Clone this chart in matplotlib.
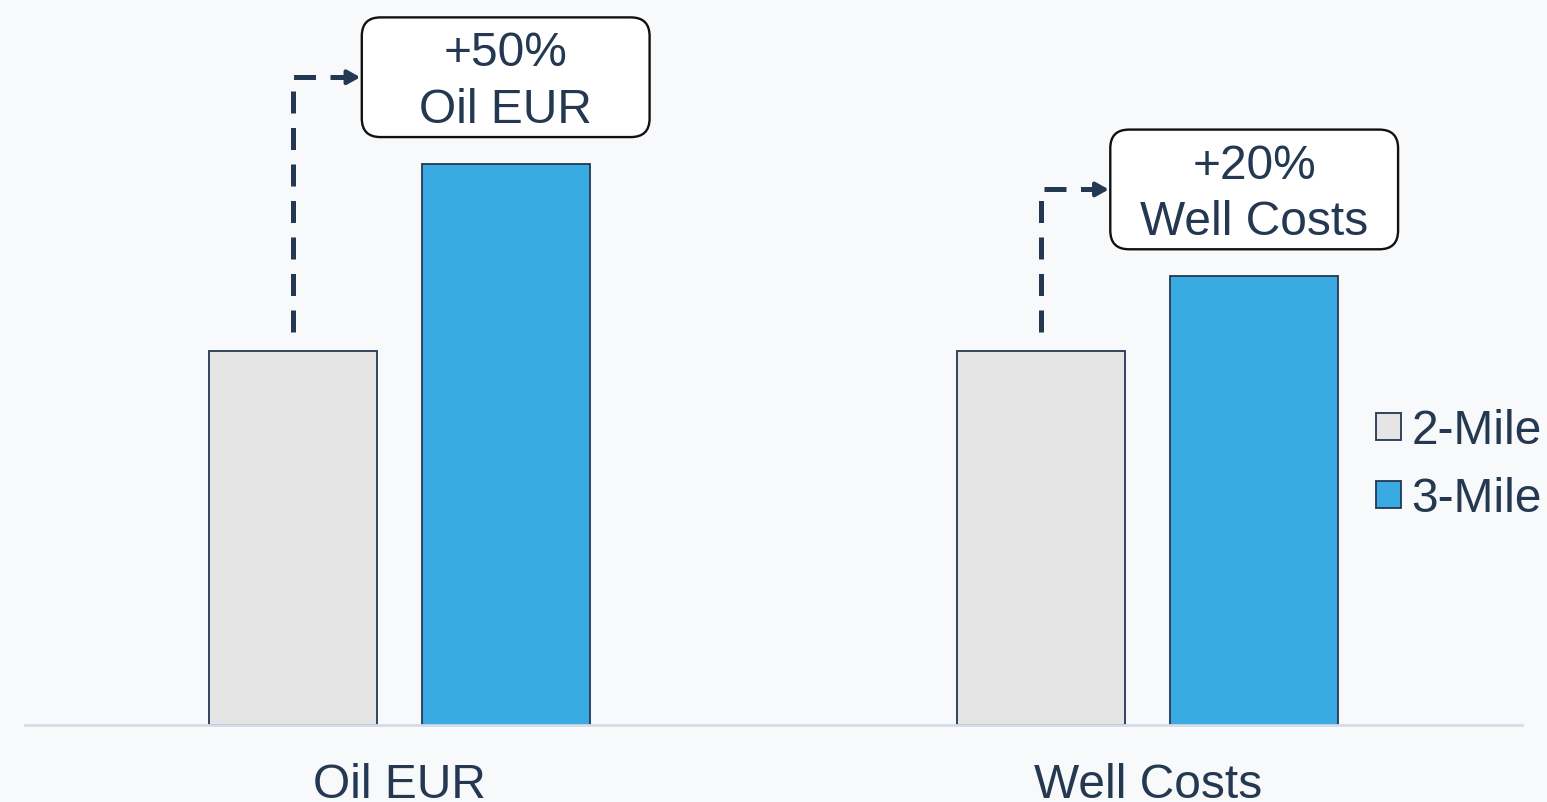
import matplotlib
matplotlib.use("Agg")
import matplotlib.pyplot as plt
from matplotlib.patches import FancyBboxPatch
import numpy as np

# Data
categories = ["Oil EUR", "Well Costs"]
series_names = ["2-Mile", "3-Mile"]
two_mile = [1.0, 1.0]
three_mile = [1.5, 1.2]
callouts = ["+50%\nOil EUR", "+20%\nWell Costs"]

BG = "#f7f9fb"
NAVY = "#243852"
GRAY = "#e5e5e5"
BLUE = "#3aabe2"

plt.rcParams['font.family'] = ['Liberation Sans', 'DejaVu Sans']

W, H = 1547, 802
fig = plt.figure(figsize=(W / 100, H / 100), dpi=100, facecolor=BG)
ax = fig.add_axes([25 / W, (H - 725) / H, 1497 / W, 725 / H])
ax.set_facecolor(BG)

x = np.arange(len(categories))
off = 0.1422
bw = 0.2243
b1 = ax.bar(x - off, two_mile, bw, color=GRAY, edgecolor=NAVY, linewidth=1.3, label=series_names[0], zorder=2)
b2 = ax.bar(x + off, three_mile, bw, color=BLUE, edgecolor=NAVY, linewidth=1.3, label=series_names[1], zorder=2)

ax.set_xlim(-0.5, 1.5)
ax.set_ylim(0, 725 / 374)

for s in ["top", "right", "left"]:
    ax.spines[s].set_visible(False)
ax.spines["bottom"].set_color("#d3deeb")
ax.spines["bottom"].set_linewidth(2)
ax.spines["bottom"].set_zorder(3)
ax.set_yticks([])
ax.set_xticks(x)
ax.set_xticklabels(categories, fontsize=34.5, color=NAVY)
ax.tick_params(axis="x", length=0, pad=27)

box_w = 0.3845
box_h = 0.32
box_gap = 0.072
aspect = 749 / 374
for i in range(len(categories)):
    cx = x[i] + off
    y0 = three_mile[i] + box_gap
    box = FancyBboxPatch((cx - box_w / 2, y0), box_w, box_h,
                         boxstyle="round,pad=0,rounding_size=0.025",
                         mutation_aspect=aspect,
                         facecolor="white", edgecolor="#111111", linewidth=1.7,
                         zorder=4, clip_on=False)
    ax.add_patch(box)
    ax.text(cx, y0 + box_h / 2 - 0.013, callouts[i], ha="center", va="center",
            fontsize=34.5, color=NAVY, linespacing=1.33, zorder=5)
    # dashed connector
    lx = x[i] - off
    ymid = y0 + box_h / 2
    ystart = two_mile[i] + 0.05
    ax.plot([lx, lx, cx - box_w / 2 - 0.024], [ystart, ymid, ymid],
            color=NAVY, linewidth=3.6, linestyle=(0, (4.4, 2.9)),
            dash_capstyle="butt", solid_capstyle="butt", zorder=3, clip_on=False)
    ax.annotate("", xy=(cx - box_w / 2 - 0.002, ymid), xytext=(cx - box_w / 2 - 0.026, ymid),
                arrowprops=dict(arrowstyle="-|>,head_length=0.75,head_width=0.42",
                                color=NAVY, lw=3, shrinkA=0, shrinkB=0),
                zorder=3)

leg = ax.legend(handles=[b1, b2], loc="center left",
                bbox_to_anchor=(1376 / W, 1 - 465 / H), bbox_transform=fig.transFigure,
                frameon=False, fontsize=34.5, handlelength=0.52, handleheight=0.52,
                handletextpad=0.22, labelspacing=0.48, borderpad=0, borderaxespad=0)
for t in leg.get_texts():
    t.set_color(NAVY)

fig.savefig("out.png", dpi=100, facecolor=BG)
